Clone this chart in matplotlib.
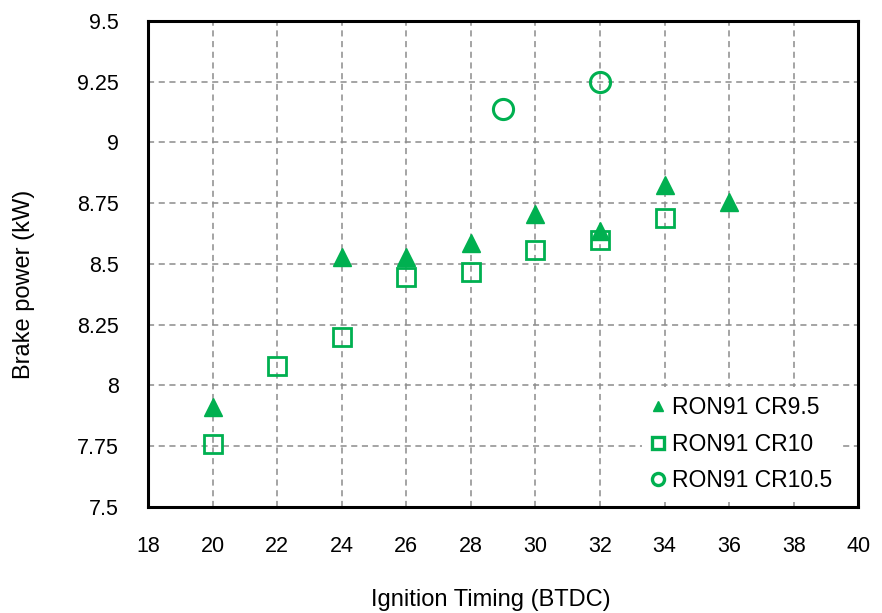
import matplotlib
matplotlib.use("Agg")
import matplotlib.pyplot as plt

plt.rcParams['font.family'] = ['Liberation Sans', 'DejaVu Sans']

# brake power vs ignition timing, RON91 fuel at three compression ratios
timing_cr95 = [20, 24, 26, 28, 30, 32, 34, 36]
power_cr95 = [7.91, 8.53, 8.53, 8.585, 8.705, 8.635, 8.825, 8.755]

timing_cr10 = [20, 22, 24, 26, 28, 30, 32, 34]
power_cr10 = [7.76, 8.08, 8.20, 8.445, 8.468, 8.558, 8.598, 8.69]

timing_cr105 = [29, 32]
power_cr105 = [9.137, 9.25]

x_ticks = list(range(18, 41, 2))
y_ticks = [7.5, 7.75, 8, 8.25, 8.5, 8.75, 9, 9.25, 9.5]
y_tick_labels = ['7.5', '7.75', '8', '8.25', '8.5', '8.75', '9', '9.25', '9.5']

green = '#00B050'

fig = plt.figure(figsize=(8.82, 6.13), dpi=100)
ax = fig.add_axes([0.168, 0.173, 0.805, 0.793])

ax.plot(timing_cr95, power_cr95, linestyle='none', marker='^', ms=12.5,
        color=green, mec=green, label='RON91 CR9.5', zorder=3)
ax.plot(timing_cr10, power_cr10, linestyle='none', marker='s', ms=13.5,
        mfc='none', mec=green, mew=2.0, label='RON91 CR10', zorder=3)
ax.plot(timing_cr105, power_cr105, linestyle='none', marker='o', ms=14.5,
        mfc='none', mec=green, mew=2.2, label='RON91 CR10.5', zorder=3)

ax.set_xlim(18, 40)
ax.set_ylim(7.5, 9.5)
ax.set_xticks(x_ticks)
ax.set_yticks(y_ticks)
ax.set_yticklabels(y_tick_labels)
ax.tick_params(axis='both', labelsize=15.5, length=0)
ax.tick_params(axis='x', pad=21)
ax.tick_params(axis='y', pad=21)

ax.grid(True, color='#8c8c8c', linestyle=(0, (4, 3)), linewidth=1.1)
ax.set_axisbelow(True)
for side in ax.spines.values():
    side.set_linewidth(2.2)
    side.set_color('black')

ax.set_xlabel('Ignition Timing (BTDC)', fontsize=17)
ax.set_ylabel('Brake power (kW)', fontsize=17)
ax.xaxis.set_label_coords(0.482, -0.168)
ax.yaxis.set_label_coords(-0.160, 0.458)

leg = ax.legend(loc='lower right', bbox_to_anchor=(0.976, 0.011),
                borderaxespad=0, frameon=True, fontsize=16.5, markerscale=0.6,
                handlelength=0.6, handletextpad=0.3, labelspacing=0.6,
                fancybox=False, edgecolor='none', facecolor='white', framealpha=1)
for h in leg.legend_handles[1:]:
    h.set_markeredgewidth(2.4)

fig.savefig('out.png', dpi=100)
